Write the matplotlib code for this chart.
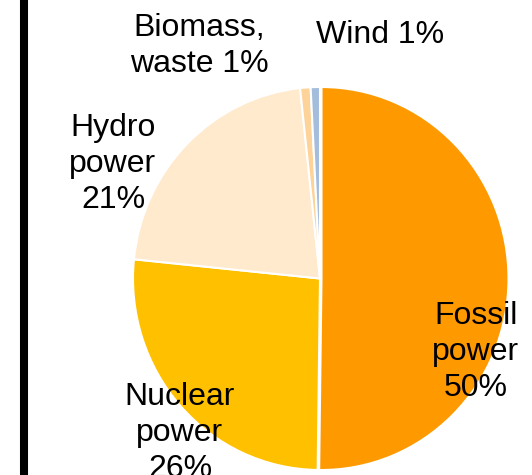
import numpy as np
import matplotlib
matplotlib.use("Agg")
import matplotlib.pyplot as plt

plt.rcParams['font.family'] = ['Liberation Sans', 'DejaVu Sans']

## data (clockwise from 12 o'clock)
sources = ['Fossil\npower', 'Nuclear\npower', 'Hydro\npower', 'Biomass,\nwaste', 'Wind']
shares = [50.2, 26.4, 21.7, 0.9, 0.8]
share_labels = ['50%', '26%', '21%', '1%', '1%']
colors = ['#FF9900', '#FFC000', '#FFEACD', '#FDD39A', '#A4BDDD']

W, H = 532, 475
fig = plt.figure(figsize=(W / 100, H / 100), dpi=100)
ax = fig.add_axes([0, 0, 1, 1])

# pie centre / radii in pixels (the original is slightly squashed)
cx, cy = 320, 278.5
rx, ry = 187, 191.5

ax.pie(shares, colors=colors, startangle=90, counterclock=False,
       explode=[0.008, 0, 0, 0, 0],
       wedgeprops=dict(edgecolor='white', linewidth=1.5))
ax.set_aspect('auto')
ax.set_xlim(-cx / rx, (W - cx) / rx)
ax.set_ylim(-(H - cy) / ry, cy / ry)
ax.axis('off')

# label positions in pixels: centre x, baseline of the last line
label_pos = [(476, 396), (180, 477), (113, 208), (199, 72), (380, 43)]
for name, pct, (px, py) in zip(sources, share_labels, label_pos):
    if name.startswith('Biomass') or name == 'Wind':
        txt = name + ' ' + pct
    else:
        txt = name + '\n' + pct
    ax.text(px / W, 1 - py / H, txt, transform=ax.transAxes,
            ha='center', va='baseline', multialignment='center',
            fontsize=23, color='black', linespacing=1.27)

# black bar on the left
ax.plot([24 / W, 24 / W], [0, 1], transform=ax.transAxes,
        color='black', linewidth=5.8, solid_capstyle='butt', clip_on=False)

fig.savefig('out.png', dpi=100)
